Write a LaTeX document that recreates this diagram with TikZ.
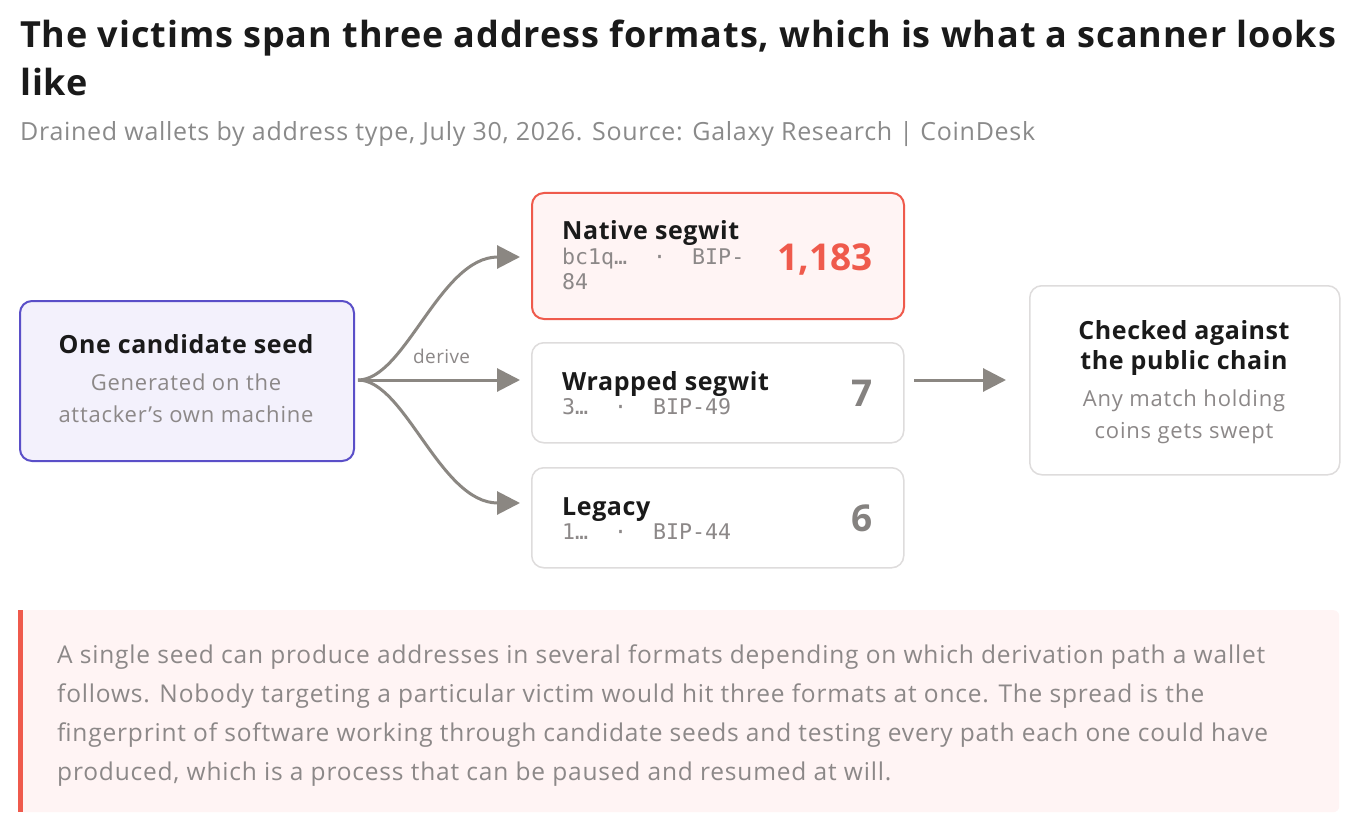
\documentclass[tikz,border=0pt]{standalone}
\usepackage{fontspec}
\setmainfont{Open Sans}
\newfontfamily\monofont{DejaVu Sans Mono}
\usetikzlibrary{arrows.meta}
\definecolor{ink}{HTML}{1A1A1A}
\definecolor{muted}{HTML}{8C8888}
\definecolor{subgray}{HTML}{8A8A8A}
\definecolor{accent}{HTML}{EF5A4C}
\definecolor{pinkbg}{HTML}{FFF4F4}
\definecolor{lav}{HTML}{F3F1FC}
\definecolor{lavline}{HTML}{5A4FC8}
\definecolor{boxline}{HTML}{DEDCDC}
\definecolor{arrowc}{HTML}{8B8782}
\definecolor{numgray}{HTML}{858280}
\newcommand{\fsz}[2]{\fontsize{#1}{#2}\selectfont}
\newcommand{\ls}[1]{\addfontfeatures{LetterSpace=#1}}
\begin{document}
\begin{tikzpicture}[x=1pt,y=-1pt,
  card/.style={draw=boxline, line width=1.5pt, rounded corners=12pt, fill=white, anchor=north west, inner sep=0pt},
  hotcard/.style={card, draw=accent, fill=pinkbg},
  seedcard/.style={card, draw=lavline, fill=lav},
  head/.style={anchor=base, text=ink, font=\fsz{25}{30}\bfseries\ls{2.3}, align=center, inner sep=0pt},
  headw/.style={anchor=base west, text=ink, font=\fsz{25}{30}\bfseries\ls{2.3}, inner sep=0pt},
  sub/.style={anchor=base, text=muted, font=\fsz{22}{32}\ls{3.5}, align=center, inner sep=0pt},
  mono/.style={anchor=base west, text=muted, font=\fsz{21.6}{25}\monofont, inner sep=0pt},
  big/.style={anchor=base east, font=\fsz{37}{40}\bfseries, inner sep=0pt},
  flow/.style={draw=arrowc, line width=3pt, -{Triangle[length=23pt,width=23pt]}}
]
\useasboundingbox (0,0) rectangle (1372,826);
\fill[white] (0,0) rectangle (1372,826);

% title (base anchor = last line's baseline)
\node[anchor=base west, inner sep=0pt, text=ink, font=\fsz{36}{48}\bfseries\ls{2.5}, align=left] (title) at (20,96)
  {The victims span three address formats, which is what a scanner looks\\like};
\node[anchor=base west, inner sep=0pt, text=subgray, font=\fsz{25}{28}\ls{2.8}] (subtitle) at (20,141)
  {Drained wallets by address type, July 30, 2026. Source: Galaxy Research | CoinDesk};

% boxes
\node[seedcard, line width=2pt, minimum width=334pt, minimum height=160pt] (seed) at (19,300) {};
\node[hotcard, line width=2pt, minimum width=372pt, minimum height=126pt] (native) at (531,192) {};
\node[card, minimum width=372pt, minimum height=100pt] (wrapped) at (531,342) {};
\node[card, minimum width=372pt, minimum height=100pt] (legacy) at (531,467) {};
\node[card, minimum width=310pt, minimum height=189pt] (check) at (1029,285) {};

% seed text
\node[head] (seedt) at (186,353) {One candidate seed};
\node[sub] (seeds) at (186,422) {Generated on the\\attacker's own machine};

% native
\node[headw] (nativet) at (562,240) {Native segwit};
\node[mono, align=left] (natives) at (562,289) {bc1q…\ \ ·\ \ BIP-\\84};
\node[big, text=accent] (nativen) at (873,270) {1,183};

% wrapped
\node[headw] (wrappedt) at (562,390) {Wrapped segwit};
\node[mono] (wrappeds) at (562,414) {3…\ \ ·\ \ BIP-49};
\node[big, text=numgray] (wrappedn) at (873,406) {7};

% legacy
\node[headw] (legacyt) at (562,515) {Legacy};
\node[mono] (legacys) at (562,539) {1…\ \ ·\ \ BIP-44};
\node[big, text=numgray] (legacyn) at (873,531) {6};

% check
\node[head] (checkt) at (1184,369) {Checked against\\the public chain};
\node[sub] (checks) at (1184,438) {Any match holding\\coins gets swept};

% connectors
\coordinate (src) at (358,380);
\coordinate (t1) at (520,257);
\coordinate (t2) at (520,380);
\coordinate (t3) at (520,503);
\coordinate (c0) at (914,380);
\coordinate (c1) at (1006,380);
\draw[flow] (src) .. controls (405,380) and (440,257) .. (t1);
\draw[flow] (src) -- (t2);
\draw[flow] (src) .. controls (405,380) and (440,503) .. (t3);
\node[anchor=base west, fill=white, inner sep=2pt, text=muted, font=\fsz{19}{20}\ls{2}] (derive) at (411,363) {derive};
\draw[flow] (c0) -- (c1);

% note
\node[anchor=north west, fill=pinkbg, rounded corners=6pt, minimum width=1321pt, minimum height=202pt, inner sep=0pt] (note) at (18,610) {};
\fill[accent] (note.north west) rectangle ([xshift=5pt]note.south west);
\node[anchor=base west, inner sep=0pt, text=muted, font=\fsz{24.5}{39}\ls{3.3}, align=left] (notetext) at (57,780)
  {A single seed can produce addresses in several formats depending on which derivation path a wallet\\
   follows. Nobody targeting a particular victim would hit three formats at once. The spread is the\\
   fingerprint of software working through candidate seeds and testing every path each one could have\\
   produced, which is a process that can be paused and resumed at will.};
\end{tikzpicture}
\end{document}
